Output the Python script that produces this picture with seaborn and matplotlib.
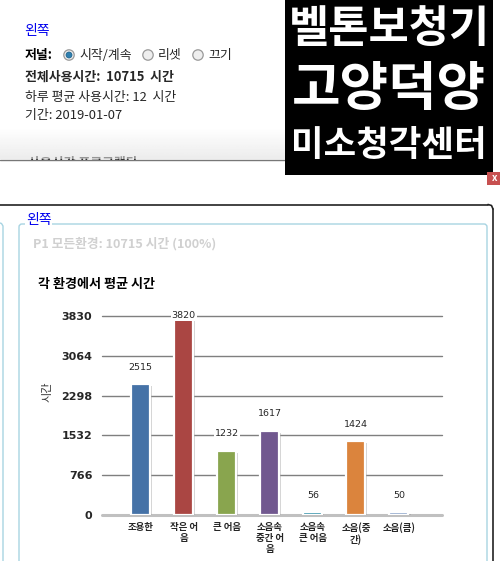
import numpy as np
import pandas as pd
import matplotlib
matplotlib.use("Agg")
import matplotlib.pyplot as plt
import matplotlib.patheffects as pe
from matplotlib.patches import Rectangle, FancyBboxPatch, Circle
import seaborn as sns

# ---- data ----
categories = ["조용한", "작은 어\n음", "큰 어음", "소음속\n중간 어\n음", "소음속\n큰 어음", "소음(중\n간)", "소음(큼)"]
values = [2515, 3820, 1232, 1617, 56, 1424, 50]
bar_colors = ["#4572A7", "#AA4643", "#89A54E", "#71588F", "#3D96AE", "#DB843D", "#92A8CD"]
y_ticks = [0, 766, 1532, 2298, 3064, 3830]
chart_title = "각 환경에서 평균 시간"
y_label = "시간"

sns.set_theme(style="white")
plt.rcParams['font.family'] = ['Noto Sans CJK KR', 'DejaVu Sans']

W, H = 500, 561
fig = plt.figure(figsize=(W / 100, H / 100), dpi=100)
fig.patch.set_facecolor("white")

# ---- UI overlay axes in pixel coords ----
ui = fig.add_axes([0, 0, 1, 1], zorder=0)
ui.set_xlim(0, W)
ui.set_ylim(H, 0)
ui.axis("off")

KR = ['Noto Sans CJK KR', 'DejaVu Sans']
FS = 9.3

# top section
ui.text(24, 31, "왼쪽", color="#0000EE", fontsize=10, va="center", ha="left", family=KR)
ui.text(25, 55, "저널:", color="black", fontsize=FS, fontweight="bold", va="center", family=KR)
for cx, lab, sel in [(69, "시작/계속", True), (148, "리셋", False), (198, "끄기", False)]:
    ui.add_patch(Circle((cx, 55), 5.2, facecolor="#EEEEEE", edgecolor="#999999", lw=0.9))
    if sel:
        ui.add_patch(Circle((cx, 55), 3.0, facecolor="#2F7FAF", edgecolor="#1B5E86", lw=0.5))
    ui.text(cx + 10, 55, lab, fontsize=FS, va="center", family=KR)
ui.text(25, 77, "전체사용시간:  10715  시간", fontsize=FS, fontweight="bold", va="center", family=KR)
ui.text(25, 97, "하루 평균 사용시간: 12  시간", fontsize=FS, va="center", family=KR)
ui.text(25, 115, "기간: 2019-01-07", fontsize=FS, va="center", family=KR)
ui.text(28, 163, "사용시간 프로그램타", fontsize=FS, va="center", family=KR, fontweight="bold")
grad = np.linspace(1.0, 0.88, 40).reshape(-1, 1)
ui.imshow(np.repeat(grad, 2, axis=1), extent=[0, 287, 159, 128], cmap="gray", vmin=0, vmax=1,
          aspect="auto", alpha=0.6, zorder=3)
ui.add_patch(Rectangle((0, 159.5), 287, 44, facecolor="white", edgecolor="none", zorder=4))
ui.plot([0, 287], [159.5, 159.5], color="#777777", lw=1.0, zorder=5)

# black banner
ui.add_patch(Rectangle((285, 0), 208, 175, facecolor="black", edgecolor="none", zorder=6))
ui.text(389, 29, "벨톤보청기", color="white", fontsize=31.5, fontweight="heavy", ha="center", va="center", family=KR, zorder=7)
ui.text(389, 89, "고양덕양", color="white", fontsize=38, fontweight="heavy", ha="center", va="center", family=KR, zorder=7)
ui.text(389, 145, "미소청각센터", color="white", fontsize=25.5, fontweight="heavy", ha="center", va="center", family=KR, zorder=7)

# close button
ui.add_patch(Rectangle((487, 172), 13, 13, facecolor="#C75050", edgecolor="none", zorder=6))
ui.text(495, 178, "x", color="white", fontsize=7, fontweight="bold", ha="center", va="center", zorder=7)

# dialog border
ui.plot([0, 488], [204.5, 204.5], color="#222222", lw=1.2, zorder=5)
ui.plot([488, 491.5, 493], [204.5, 205.5, 209], color="#222222", lw=1.2, zorder=5)
ui.plot([493, 493], [209, H], color="#222222", lw=1.2, zorder=5)
# left neighbour panel edge
ui.plot([0, 1.5, 3, 3], [223, 223.5, 226, H], color="#A8D4E2", lw=1.0, zorder=5)
# fieldset
ui.add_patch(FancyBboxPatch((19, 224), 468, 400, boxstyle="round,pad=0,rounding_size=3",
                            facecolor="white", edgecolor="#A8D4E2", lw=1.0, zorder=2))
ui.text(26, 220, "왼쪽", color="#0000EE", fontsize=10, va="center", family=KR, zorder=5,
        bbox=dict(facecolor="white", edgecolor="none", pad=0.5))
ui.text(33, 244, "P1 모든환경: 10715 시간 (100%)", color="#D0D0D0", fontsize=9.2, fontweight="bold",
        va="center", family=KR, zorder=5)
ui.text(38, 284, chart_title, color="black", fontsize=9.4, fontweight="bold", va="center", family=KR, zorder=5)
ui.text(48, 392, y_label, color="#333333", fontsize=8, rotation=90, ha="center", va="center", family=KR, zorder=5)

# ---- chart axes ----
x0, x1, ytop, ybot = 102, 442, 316, 515
ax = fig.add_axes([x0 / W, 1 - ybot / H, (x1 - x0) / W, (ybot - ytop) / H], zorder=3)
ax.patch.set_alpha(0)
df = pd.DataFrame({"cat": categories, "val": values})
sns.barplot(data=df, x="cat", y="val", hue="cat", palette=bar_colors, legend=False, saturation=1,
            width=0.44, ax=ax, edgecolor="white", linewidth=1.6, zorder=3)
for p in ax.patches:
    p.set_path_effects([pe.SimplePatchShadow(offset=(1.5, -1.5), shadow_rgbFace="#999999", alpha=0.45),
                        pe.Normal()])
ax.set_xlim(-0.9, 7.0)
ax.set_ylim(0, 3830)
ax.set_yticks(y_ticks)
ax.set_yticklabels([str(t) for t in y_ticks], fontsize=8, fontweight="bold", family="DejaVu Sans")
for t in y_ticks[1:]:
    ax.axhline(t, color="#7F7F7F", lw=1.0, zorder=1, clip_on=False)
ax.axhline(0, color="#C0C0C0", lw=2.2, zorder=1, clip_on=False)
for s in ax.spines.values():
    s.set_visible(False)
ax.tick_params(axis="y", length=0, pad=7)
ax.tick_params(axis="x", length=0, pad=5)
ax.set_xticks(range(len(categories)))
ax.set_xticklabels(categories, fontsize=6.8, fontweight="bold", family=KR, linespacing=1.15, va="top")
ax.set_xlabel("")
ax.set_ylabel("")
ax.grid(False)

for i, v in enumerate(values):
    yv = min(v, 3830 - 130)
    ax.annotate(str(v), (i, yv), xytext=(0, 9 if v < 3700 else 2), textcoords="offset points",
                ha="center", va="bottom", fontsize=6.8, family="DejaVu Sans", zorder=5,
                bbox=dict(facecolor="white", edgecolor="none", pad=0.6), annotation_clip=False)

fig.savefig("out.png", dpi=100, facecolor="white")
